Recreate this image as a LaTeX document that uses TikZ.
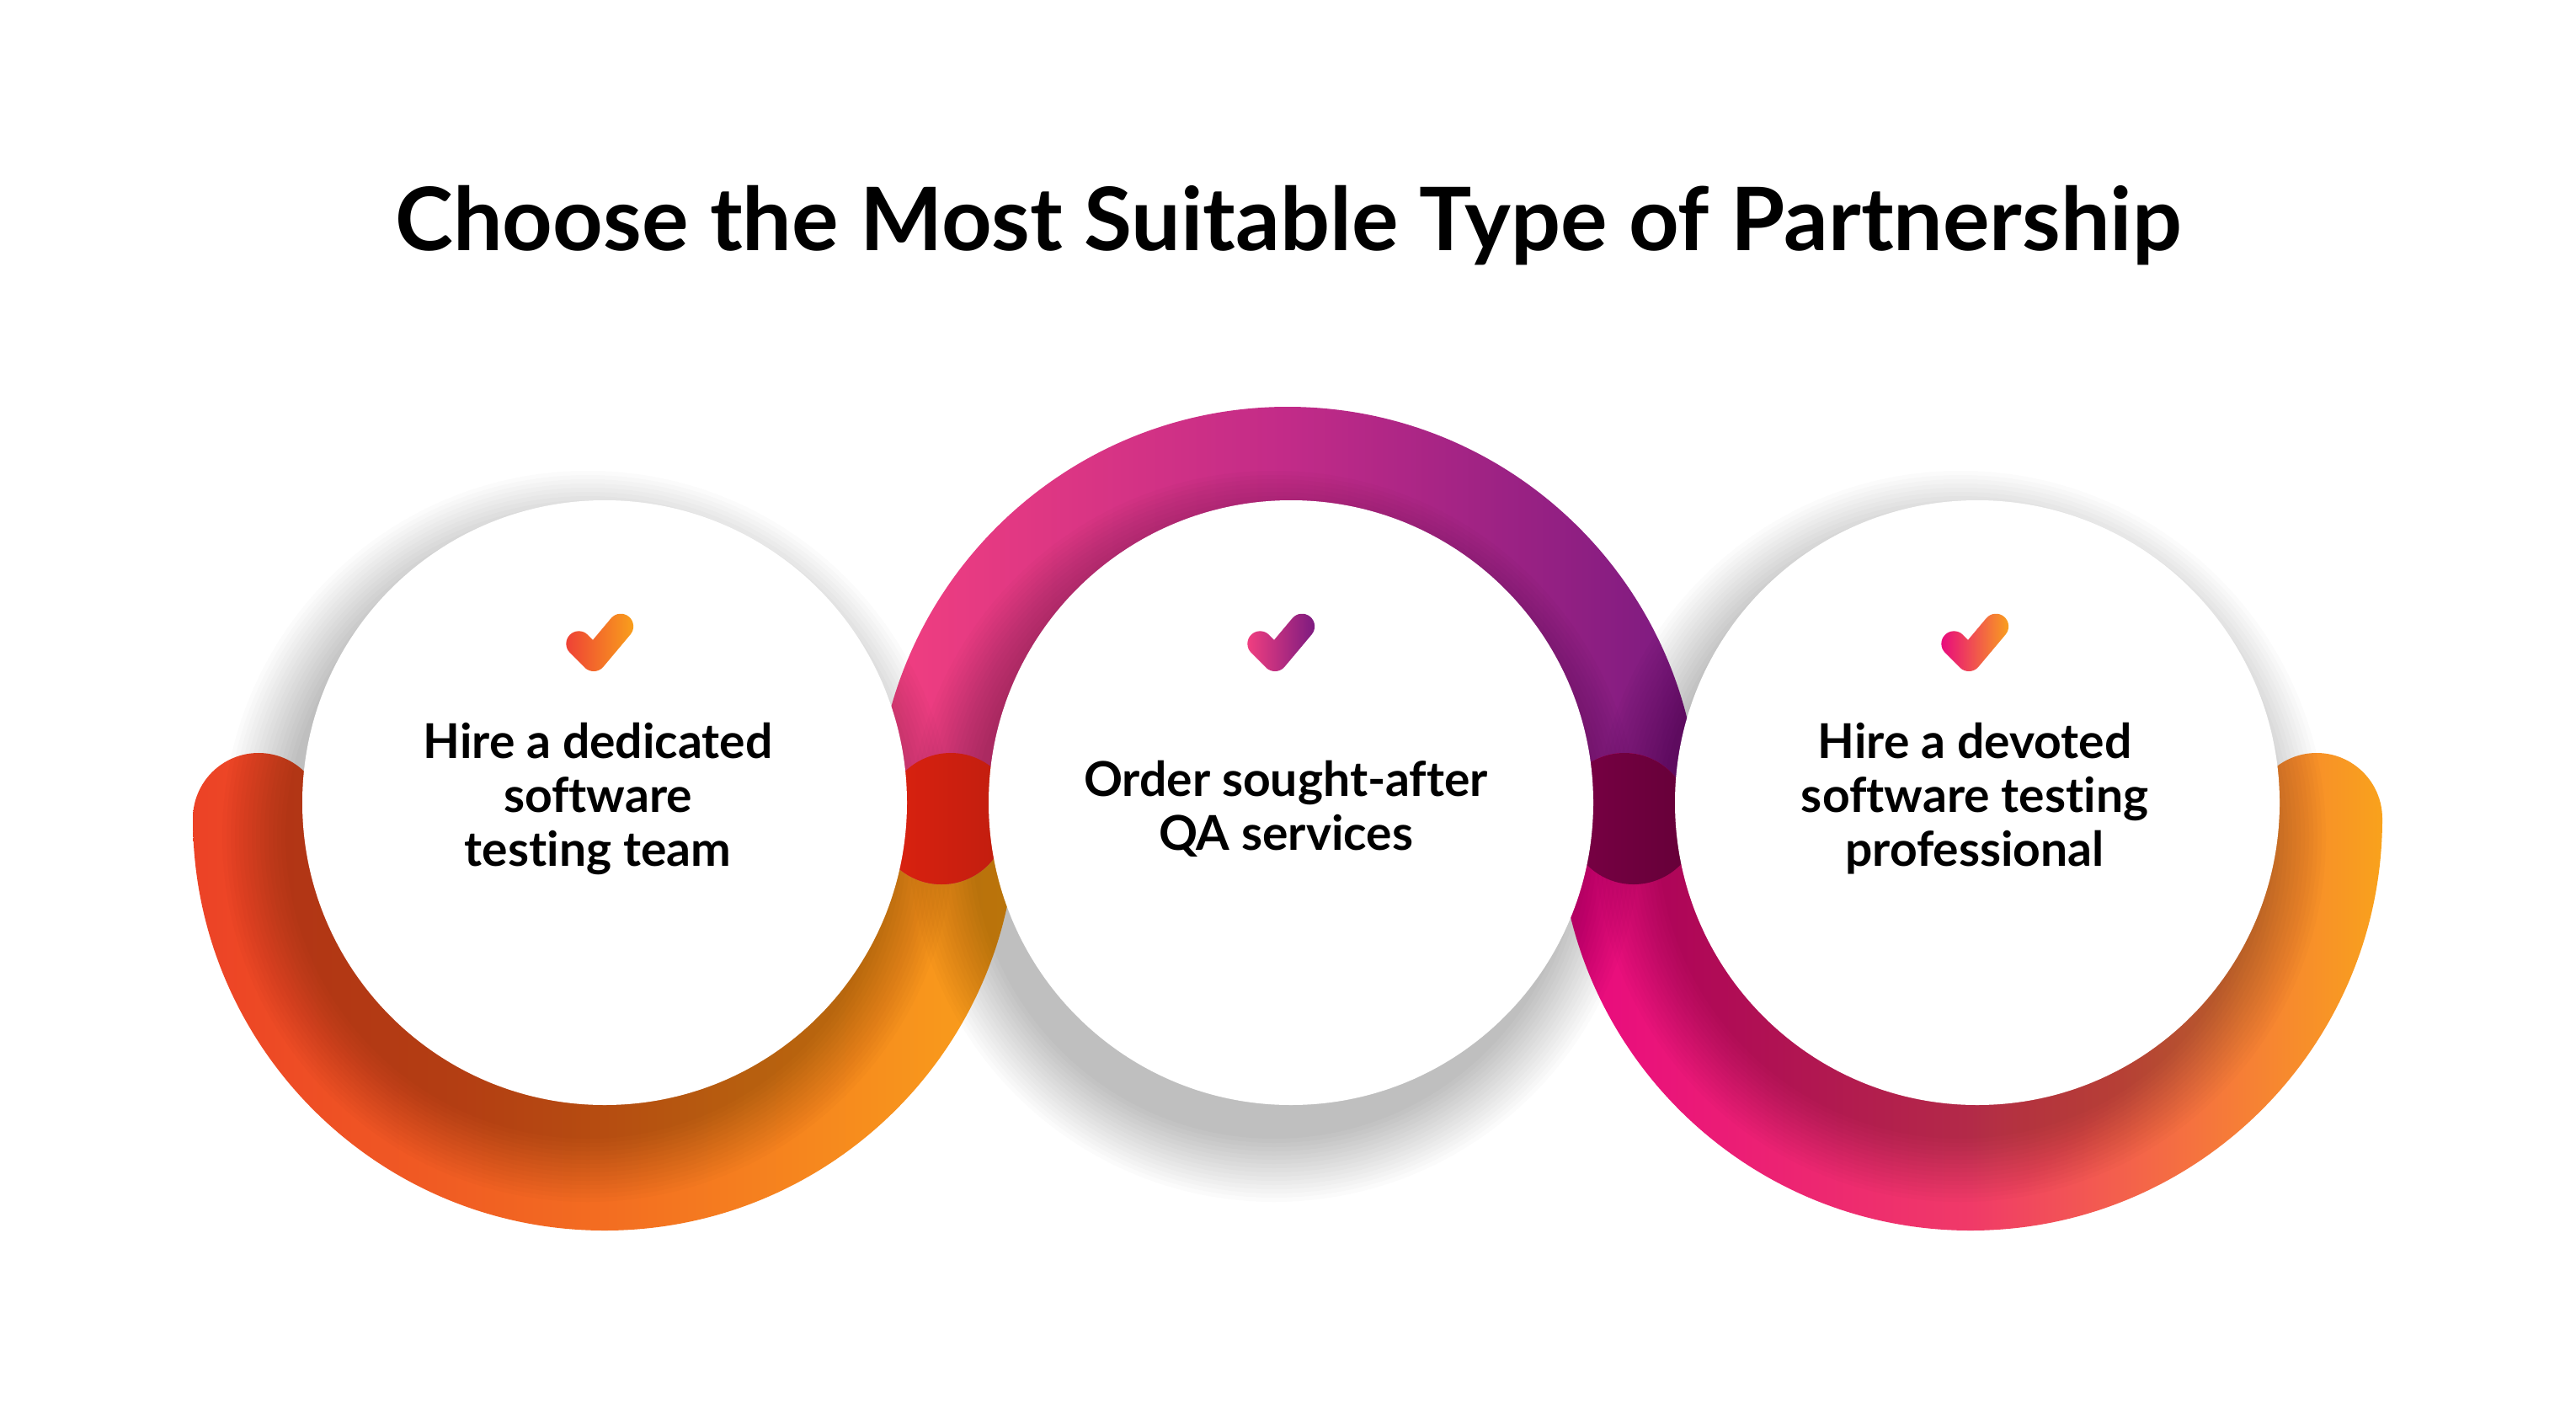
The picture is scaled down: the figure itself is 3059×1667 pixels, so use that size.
\documentclass[tikz,border=0pt]{standalone}
\usepackage{fontspec}
\setmainfont{Lato}[Ligatures={NoCommon}]
\definecolor{lA}{HTML}{EC4226}
\definecolor{lB}{HTML}{F36D21}
\definecolor{lC}{HTML}{F9A11B}
\definecolor{mA}{HTML}{F23F80}
\definecolor{mB}{HTML}{C22B88}
\definecolor{mC}{HTML}{7A1A80}
\definecolor{rA}{HTML}{E8087F}
\definecolor{rB}{HTML}{F03A68}
\definecolor{rC}{HTML}{F9A21C}
\definecolor{redA}{HTML}{DF2210}
\definecolor{redB}{HTML}{BC1D0E}
\definecolor{marA}{HTML}{7C0046}
\definecolor{marB}{HTML}{620036}
\definecolor{ckA}{HTML}{EE4036}
\def\ringL{(229,-972) arc[start angle=180,end angle=360,radius=489] arc[start angle=0,end angle=180,radius=78] arc[start angle=360,end angle=180,radius=333] arc[start angle=0,end angle=180,radius=78] -- cycle}
\def\ringM{(1040,-972) arc[start angle=180,end angle=0,radius=489] arc[start angle=0,end angle=-180,radius=78] arc[start angle=0,end angle=180,radius=333] arc[start angle=0,end angle=-180,radius=78] -- cycle}
\def\ringR{(1851,-972) arc[start angle=180,end angle=360,radius=489] arc[start angle=0,end angle=180,radius=78] arc[start angle=360,end angle=180,radius=333] arc[start angle=0,end angle=180,radius=78] -- cycle}
\newcommand\mycheck[4]{%
  \shade[left color=#3, right color=#4]
    (#1,#2) ++(-40:15) -- ++(50:50) arc[start angle=-40,end angle=140,radius=15] -- ++(230:50) arc[start angle=140,end angle=320,radius=15] -- cycle
    (#1,#2) ++(45:15) -- ++(135:25) arc[start angle=45,end angle=225,radius=15] -- ++(-45:25) arc[start angle=225,end angle=405,radius=15] -- cycle;}
\tikzset{
  disc/.style={circle, fill=white, minimum size=718pt, inner sep=0pt},
  itemtext/.style={font=\bfseries\fontsize{57}{64}\selectfont, align=center, inner sep=0pt, text=black},
  titletext/.style={font=\bfseries\fontsize{104}{110}\selectfont, inner sep=0pt, anchor=base, text=black},
  shadowlayer/.style={fill=black, opacity=0.014}
}
\begin{document}
\begin{tikzpicture}[x=1pt,y=1pt]
\useasboundingbox (0,0) rectangle (3059,-1667);
\fill[white] (0,0) rectangle (3059,-1667);
% rings
\shade[left color=lA, right color=lC, middle color=lB] \ringL;
\shade[left color=mA, right color=mC, middle color=mB] \ringM;
\shade[left color=rA, right color=rC, middle color=rB] \ringR;
% shadows
\foreach \cx in {718,1533,2348}{
  \foreach \k in {0,...,15}{
    \fill[shadowlayer] (\cx-20,-993) circle[radius=359+5*\k];
  }
}
% overlaps
\begin{scope}
  \clip \ringL;
  \clip \ringM;
  \shade[left color=redA, right color=redB] (1030,-860) rectangle (1220,-1080);
\end{scope}
\begin{scope}
  \clip \ringM;
  \clip \ringR;
  \shade[left color=marA, right color=marB] (1840,-860) rectangle (2030,-1080);
\end{scope}
% discs
\node[disc] (c1) at (718,-953) {};
\node[disc] (c2) at (1533,-953) {};
\node[disc] (c3) at (2348,-953) {};
% checks
\mycheck{705}{-782}{ckA}{lC}
\mycheck{1514}{-782}{mA}{mC}
\mycheck{2338}{-782}{rA}{rC}
% texts
\node[titletext] (title) at (1530,-297) {Choose the Most Suitable Type of Partnership};
\node[itemtext] (t1) at (710,-948) {Hire a dedicated\\software\\testing team};
\node[itemtext] (t2) at (1527,-960) {Order sought-after\\QA services};
\node[itemtext] (t3) at (2345,-948) {Hire a devoted\\software testing\\professional};
\end{tikzpicture}
\end{document}
